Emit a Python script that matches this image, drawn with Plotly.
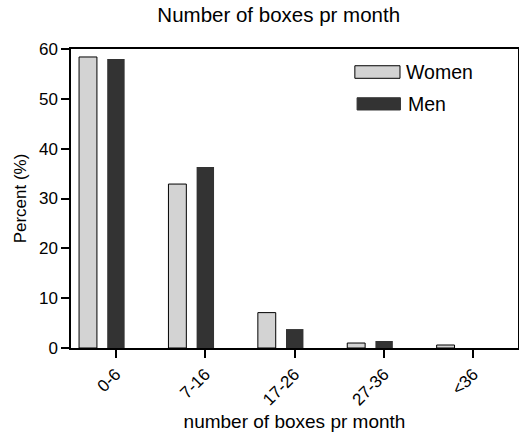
import plotly.graph_objects as go

categories = ["0-6", "7-16", "17-26", "27-36", "<36"]
women = [58.4, 32.9, 7.1, 1.0, 0.6]
men = [58.0, 36.3, 3.8, 1.4, 0.0]
y_ticks = [0, 10, 20, 30, 40, 50, 60]

FONT = "Liberation Sans, Arial, sans-serif"

fig = go.Figure()
fig.add_trace(go.Bar(
    x=categories, y=women, name="Women",
    width=0.2, offset=-0.41,
    marker=dict(color="#d3d3d3", line=dict(color="#000000", width=1)),
    showlegend=False,
))
fig.add_trace(go.Bar(
    x=categories, y=men, name="Men",
    width=0.195, offset=-0.095,
    marker=dict(color="#333333", line=dict(width=0)),
    showlegend=False,
))

# Legend drawn as swatches + labels
fig.add_shape(type="rect", xref="paper", yref="paper", x0=0.635, x1=0.736, y0=0.902, y1=0.944,
              fillcolor="#d3d3d3", line=dict(color="#000000", width=1))
fig.add_shape(type="rect", xref="paper", yref="paper", x0=0.640, x1=0.737, y0=0.796, y1=0.837,
              fillcolor="#333333", line=dict(color="#333333", width=1))
fig.add_annotation(text="Women", xref="paper", yref="paper", x=0.746, y=0.923,
                   xanchor="left", yanchor="middle", showarrow=False,
                   font=dict(family=FONT, size=19.5, color="#000000"))
fig.add_annotation(text="Men", xref="paper", yref="paper", x=0.749, y=0.816,
                   xanchor="left", yanchor="middle", showarrow=False,
                   font=dict(family=FONT, size=19.5, color="#000000"))

fig.update_layout(
    width=519, height=437,
    margin=dict(l=71, r=1, t=49, b=89),
    paper_bgcolor="white", plot_bgcolor="white",
    barmode="overlay",
    font=dict(family=FONT, color="#000000"),
    title=dict(text="Number of boxes pr month", x=0.537, xanchor="center",
               y=0.966, yanchor="middle", font=dict(size=20.5, family=FONT)),
    xaxis=dict(
        type="category", range=[-0.5, 4.5],
        showline=True, mirror=True, linecolor="#000000", linewidth=1.5,
        ticks="outside", ticklen=8, tickwidth=1.5, tickcolor="#000000",
        tickangle=-45, tickfont=dict(size=17),
        showgrid=False, zeroline=False, automargin=False,
        title=dict(text="number of boxes pr month", font=dict(size=19), standoff=6),
    ),
    yaxis=dict(
        range=[0, 60], tickvals=y_ticks,
        showline=True, mirror=True, linecolor="#000000", linewidth=1.5,
        ticks="outside", ticklen=8, tickwidth=1.5, tickcolor="#000000",
        tickfont=dict(size=17),
        showgrid=False, zeroline=False, automargin=False,
        title=dict(text="Percent (%)", font=dict(size=17), standoff=8),
    ),
)

fig.write_html("out.html", config={"displayModeBar": False},
               post_script="document.body.style.margin='0';")
